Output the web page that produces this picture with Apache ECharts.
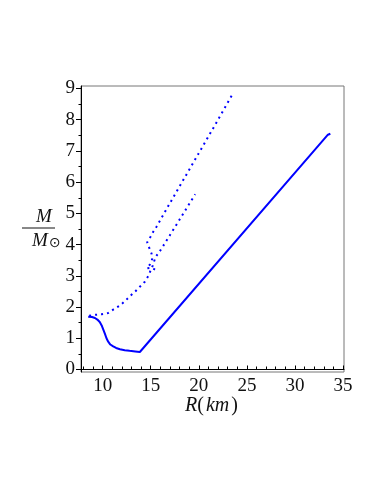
<!DOCTYPE html>
<html>
<head>
<meta charset="utf-8">
<script src="https://cdn.jsdelivr.net/npm/echarts@6/dist/echarts.min.js"></script>
<style>
  html, body { margin: 0; padding: 0; background: #fff; }
  #chart { width: 382px; height: 494px; }
</style>
</head>
<body>
<div id="chart"></div>
<script>
// 实线 (solid branch)
var solidR = [8.5, 8.9, 9.2, 9.45, 9.7, 9.9, 10.05, 10.24, 10.4, 10.58, 10.8, 11.1, 11.4, 11.8, 12.3, 12.8, 13.4, 13.87, 33.43, 33.6, 33.68];
var solidM = [1.69, 1.68, 1.65, 1.6, 1.52, 1.41, 1.29, 1.14, 1.0, 0.89, 0.8, 0.74, 0.69, 0.65, 0.62, 0.6, 0.58, 0.56, 7.52, 7.56, 7.55];
// 点线 1 (lower dotted branch)
var dotR1 = [8.6, 8.9, 9.2, 9.9, 10.58, 11.1, 11.8, 12.32, 12.84, 13.36, 13.87, 14.39, 14.74, 14.93, 15.2, 15.5, 15.95, 16.3, 16.99, 17.8, 18.7, 19.62];
var dotM1 = [1.72, 1.74, 1.75, 1.77, 1.81, 1.92, 2.05, 2.19, 2.35, 2.49, 2.65, 2.81, 2.99, 3.13, 3.32, 3.6, 3.79, 3.96, 4.3, 4.7, 5.15, 5.61];
// 点线 2 (upper dotted branch)
var dotR2 = [15.45, 15.2, 14.9, 14.6, 14.93, 15.1, 15.16, 15.08, 14.84, 14.63, 14.98, 15.26, 15.6, 17.0, 18.5, 20.0, 21.5, 23.46];
var dotM2 = [3.2, 3.24, 3.25, 3.24, 3.37, 3.48, 3.56, 3.72, 3.9, 4.07, 4.25, 4.41, 4.57, 5.33, 6.13, 6.93, 7.73, 8.79];

var xTicks = [10, 15, 20, 25, 30, 35];
var xMinorTicks = [8, 9, 11, 12, 13, 14, 16, 17, 18, 19, 21, 22, 23, 24, 26, 27, 28, 29, 31, 32, 33, 34];
var yTicks = [0, 1, 2, 3, 4, 5, 6, 7, 8, 9];
var yMinorTicks = [0.5, 1.5, 2.5, 3.5, 4.5, 5.5, 6.5, 7.5, 8.5];

function pairs(xs, ys) {
  return xs.map(function (x, i) { return [x, ys[i]]; });
}

var serif = 'Liberation Serif';
var blue = '#0000ff';

var myChart = echarts.init(document.getElementById('chart'));
var option = {
  animation: false,
  grid: {
    left: 81, right: 38, top: 86, bottom: 122,
    show: true,
    borderColor: '#777',
    borderWidth: 1
  },
  xAxis: [{
    type: 'value',
    min: 7.75, max: 35.1,
    splitLine: { show: false },
    axisLine: { show: true, lineStyle: { color: '#000', width: 1 } },
    axisTick: { show: true, inside: true, length: 4, customValues: xTicks, lineStyle: { color: '#000' } },
    axisLabel: { show: true, customValues: xTicks, margin: 5, fontFamily: serif, fontSize: 19, color: '#111' }
  }, {
    type: 'value',
    position: 'bottom',
    min: 7.75, max: 35.1,
    splitLine: { show: false },
    axisLine: { show: false },
    axisTick: { show: true, inside: true, length: 3, customValues: xMinorTicks, lineStyle: { color: '#000' } },
    axisLabel: { show: false }
  }],
  yAxis: [{
    type: 'value',
    min: -0.08, max: 9.08,
    splitLine: { show: false },
    axisLine: { show: true, lineStyle: { color: '#000', width: 1 } },
    axisTick: { show: true, length: 5, customValues: yTicks, lineStyle: { color: '#000' } },
    axisLabel: { show: true, customValues: yTicks, margin: 6, fontFamily: serif, fontSize: 19, color: '#111' }
  }, {
    type: 'value',
    position: 'left',
    min: -0.08, max: 9.08,
    splitLine: { show: false },
    axisLine: { show: false },
    axisTick: { show: true, length: 2.5, customValues: yMinorTicks, lineStyle: { color: '#000' } },
    axisLabel: { show: false }
  }],
  series: [{
    type: 'line',
    data: pairs(solidR, solidM),
    showSymbol: false,
    lineStyle: { color: blue, width: 2 }
  }, {
    type: 'line',
    data: pairs(dotR1, dotM1),
    showSymbol: false,
    lineStyle: { color: blue, width: 2, type: [2, 4] }
  }, {
    type: 'line',
    data: pairs(dotR2, dotM2),
    showSymbol: false,
    lineStyle: { color: blue, width: 2, type: [2, 4] }
  }],
  graphic: [{
    type: 'text', left: 36, top: 207,
    style: { text: 'M', font: 'italic 19px "Liberation Serif"', fill: '#111' }
  }, {
    type: 'line',
    shape: { x1: 22, y1: 228, x2: 55, y2: 228 },
    style: { stroke: '#111', lineWidth: 1 }
  }, {
    type: 'text', left: 32, top: 231,
    style: { text: 'M', font: 'italic 19px "Liberation Serif"', fill: '#111' }
  }, {
    type: 'text', left: 49, top: 236,
    style: { text: '⊙', font: '14px "DejaVu Sans"', fill: '#111' }
  }, {
    type: 'text', left: 185, top: 396,
    style: {
      text: '{i|R}{n|(}{k|km}{n|)}',
      rich: {
        i: { font: 'italic 20px "Liberation Serif"', fill: '#111' },
        k: { font: 'italic 20px "Liberation Serif"', fill: '#111', padding: [0, 2, 0, 2] },
        n: { font: '20px "Liberation Serif"', fill: '#111' }
      }
    }
  }]
};
myChart.setOption(option);
</script>
</body>
</html>
